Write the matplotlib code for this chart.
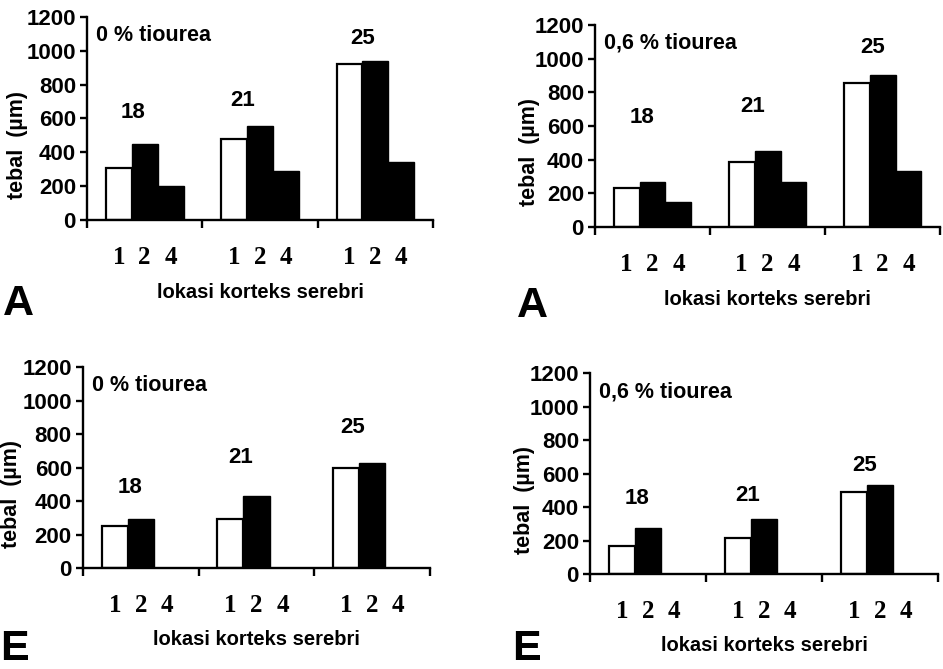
import matplotlib
matplotlib.use("Agg")
import matplotlib.pyplot as plt
import numpy as np

plt.rcParams["font.family"] = ["Liberation Sans", "DejaVu Sans"]
plt.rcParams["font.weight"] = "bold"

# data (thickness in um)
lokasi = ["1", "2", "4"]
hari = ["18", "21", "25"]
tebal_A_0 = [[310, 450, 200], [480, 555, 290], [920, 940, 340]]
tebal_A_06 = [[230, 270, 150], [385, 450, 265], [855, 900, 330]]
tebal_E_0 = [[250, 290, 0], [290, 430, 0], [600, 630, 0]]
tebal_E_06 = [[165, 275, 0], [215, 330, 0], [490, 530, 0]]

judul = ["0 % tiourea", "0,6 % tiourea", "0 % tiourea", "0,6 % tiourea"]
huruf = ["A", "A", "E", "E"]

fig = plt.figure(figsize=(9.43, 6.69), dpi=100)

# axes rectangles, in figure fractions
rects = [
    [0.0923, 0.6712, 0.367, 0.3034],
    [0.631, 0.6607, 0.366, 0.302],
    [0.088, 0.151, 0.368, 0.300],
    [0.6257, 0.142, 0.369, 0.300],
]
# where the day labels sit (x in group units, y in data units)
day_pos = [
    [(0.40, 637), (1.35, 708), (2.39, 1074)],
    [(0.41, 648), (1.37, 713), (2.41, 1069)],
    [(0.41, 484), (1.36, 663), (2.33, 842)],
    [(0.405, 454), (1.36, 472), (2.37, 651)],
]
letter_pos = [(0.003, 0.529), (0.548, 0.526), (0.0, 0.014), (0.543, 0.013)]
ylab_x = [-0.17, -0.16, -0.176, -0.158]

w = 0.225
offsets = np.array([-1, 0, 1]) * w

for i, values in enumerate([tebal_A_0, tebal_A_06, tebal_E_0, tebal_E_06]):
    ax = fig.add_axes(rects[i])
    for g, vals in enumerate(values):
        xs = g + 0.5 + offsets
        ax.bar(xs[0], vals[0], width=w, color="white", edgecolor="black", linewidth=1.6)
        ax.bar(xs[1:], vals[1:], width=w, color="black", edgecolor="black", linewidth=1.0)
        ax.text(day_pos[i][g][0], day_pos[i][g][1], hari[g], ha="center", va="center",
                fontsize=16, fontweight="bold")

    ax.set_xlim(0, 3)
    ax.set_ylim(0, 1200)
    ax.spines["top"].set_visible(False)
    ax.spines["right"].set_visible(False)
    ax.spines["left"].set_linewidth(1.7)
    ax.spines["bottom"].set_linewidth(1.7)

    ax.set_yticks(range(0, 1201, 200))
    ax.tick_params(axis="y", direction="out", length=5, width=1.7, labelsize=16, pad=3)
    for lab in ax.get_yticklabels():
        lab.set_fontweight("bold")

    ax.set_xticks([0, 1, 2, 3])
    ax.set_xticklabels([])
    ax.tick_params(axis="x", which="major", direction="out", length=6, width=1.7)
    centers = [g + 0.5 + o for g in range(3) for o in offsets]
    ax.set_xticks(centers, minor=True)
    ax.set_xticklabels(lokasi * 3, minor=True, fontsize=18, fontweight="bold",
                       family=["Liberation Serif", "DejaVu Serif"])
    ax.tick_params(axis="x", which="minor", length=0, pad=19)

    ax.text(0.08, 1090, judul[i], ha="left", va="center", fontsize=15.5, fontweight="bold")

    ax.set_xlabel("lokasi korteks serebri", fontsize=14.5, fontweight="bold")
    ax.xaxis.set_label_coords(0.5, -0.31)
    ax.set_ylabel("tebal  (µm)", fontsize=15.5, fontweight="bold")
    ax.yaxis.set_label_coords(ylab_x[i], 0.37)

    fig.text(letter_pos[i][0], letter_pos[i][1], huruf[i], fontsize=31, fontweight="bold",
             ha="left", va="baseline")

fig.savefig("out.png", dpi=100, facecolor="white")
